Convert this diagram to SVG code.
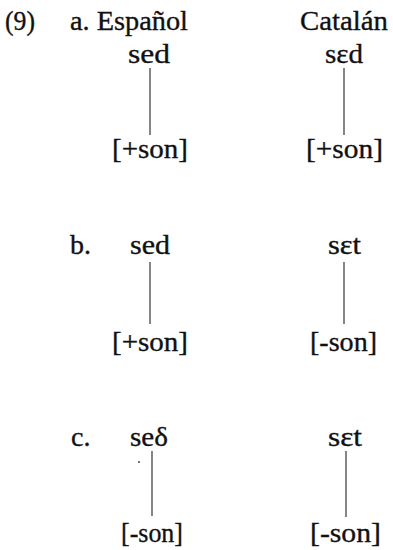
<svg xmlns="http://www.w3.org/2000/svg" width="393" height="550" viewBox="0 0 393 550">
<style>
text{font-family:"Liberation Serif","DejaVu Serif",serif;font-size:28px;fill:#111;stroke:#111;stroke-width:0.35}
.c line{stroke:#222;stroke-width:1.1}
</style>
<rect width="393" height="550" fill="#fff"/>
<g id="header">
<text x="5" y="30" textLength="30" lengthAdjust="spacingAndGlyphs">(9)</text>
<text x="70" y="30" textLength="118" lengthAdjust="spacingAndGlyphs">a. Español</text>
<text x="300" y="30" textLength="88" lengthAdjust="spacingAndGlyphs">Catalán</text>
</g>
<g class="c" id="connectors">
<line x1="150" y1="68" x2="150" y2="135"/>
<line x1="344" y1="68" x2="344" y2="135"/>
<line x1="150" y1="262" x2="150" y2="324"/>
<line x1="344" y1="262" x2="344" y2="324"/>
<line x1="152" y1="451" x2="152" y2="516"/>
<line x1="346" y1="451" x2="346" y2="517"/>
</g>
<g id="a-esp-top"><text x="128" y="63" textLength="42" lengthAdjust="spacingAndGlyphs">sed</text></g>
<g id="a-esp-bot"><text x="112" y="158" textLength="76" lengthAdjust="spacingAndGlyphs">[+son]</text></g>
<g id="a-cat-top"><text x="325" y="63" textLength="38" lengthAdjust="spacingAndGlyphs">sεd</text></g>
<g id="a-cat-bot"><text x="306" y="158" textLength="77" lengthAdjust="spacingAndGlyphs">[+son]</text></g>
<g id="b-label"><text x="70" y="254">b.</text></g>
<g id="b-esp-top"><text x="130" y="254" textLength="40" lengthAdjust="spacingAndGlyphs">sed</text></g>
<g id="b-esp-bot"><text x="112" y="351" textLength="76" lengthAdjust="spacingAndGlyphs">[+son]</text></g>
<g id="b-cat-top"><text x="328" y="254" textLength="33" lengthAdjust="spacingAndGlyphs">sεt</text></g>
<g id="b-cat-bot"><text x="310" y="351" textLength="67" lengthAdjust="spacingAndGlyphs">[-son]</text></g>
<g id="c-label"><text x="71" y="446">c.</text></g>
<g id="c-esp-top"><text x="130" y="446" textLength="38" lengthAdjust="spacingAndGlyphs">seδ</text><circle cx="139" cy="462" r="0.9" fill="#333"/></g>
<g id="c-esp-bot"><text x="121" y="542" textLength="62" lengthAdjust="spacingAndGlyphs">[-son]</text></g>
<g id="c-cat-top"><text x="328" y="446" textLength="34" lengthAdjust="spacingAndGlyphs">sεt</text></g>
<g id="c-cat-bot"><text x="310" y="542" textLength="71" lengthAdjust="spacingAndGlyphs">[-son]</text></g>
</svg>
